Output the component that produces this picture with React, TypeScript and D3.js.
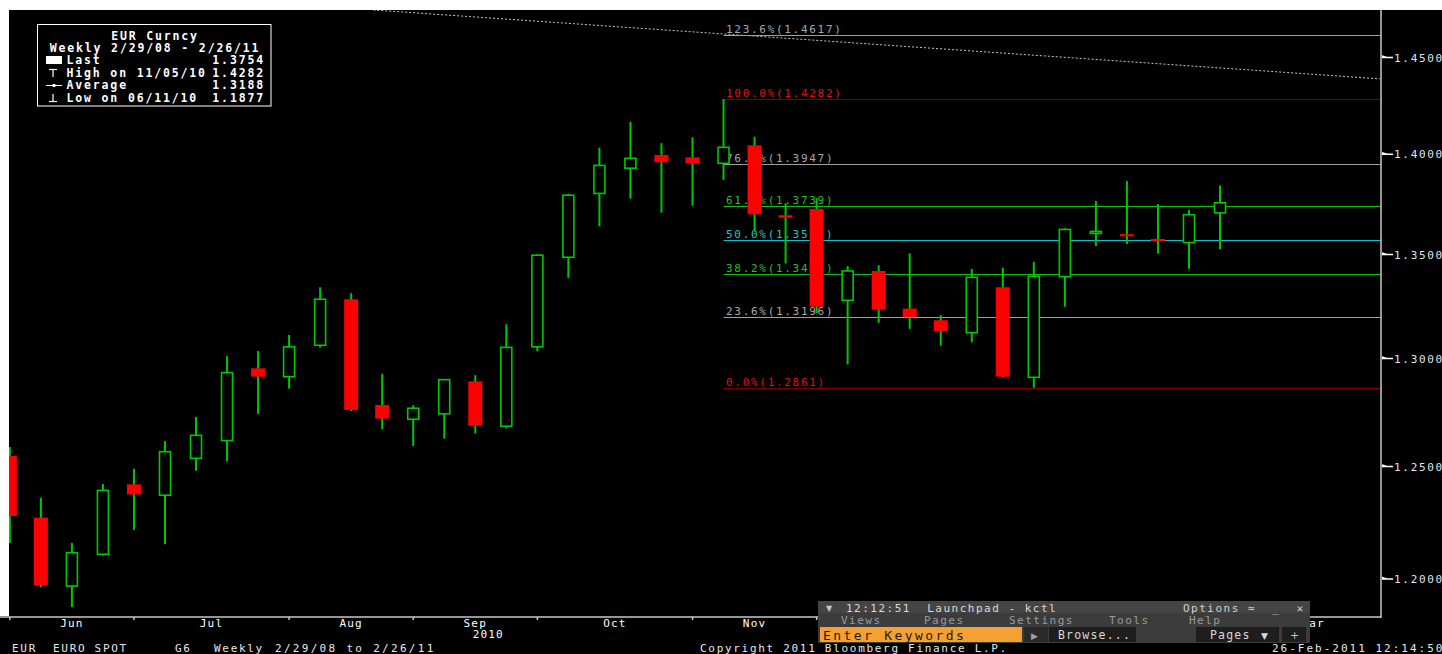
import React from "react";
import * as d3 from "d3";

const barDates = [
  "2010-05-28","2010-06-04","2010-06-11","2010-06-18","2010-06-25","2010-07-02","2010-07-09","2010-07-16",
  "2010-07-23","2010-07-30","2010-08-06","2010-08-13","2010-08-20","2010-08-27","2010-09-03","2010-09-10",
  "2010-09-17","2010-09-24","2010-10-01","2010-10-08","2010-10-15","2010-10-22","2010-10-29","2010-11-05",
  "2010-11-12","2010-11-19","2010-11-26","2010-12-03","2010-12-10","2010-12-17","2010-12-24","2010-12-31",
  "2011-01-07","2011-01-14","2011-01-21","2011-01-28","2011-02-04","2011-02-11","2011-02-18","2011-02-25",
];
const opens = [
  1.2547,1.2269,1.1968,1.2107,1.2418,1.2369,1.2536,1.2617,1.2952,1.2913,1.3061,1.3281,1.2781,1.2715,1.2740,1.2891,
  1.2683,1.3054,1.3485,1.3801,1.3928,1.3995,1.3983,1.3953,1.4044,1.3692,1.3723,1.3276,1.3418,1.3236,1.3180,1.3121,
  1.3339,1.2910,1.3390,1.3605,1.3598,1.3575,1.3557,1.3704,
];
const highs = [
  1.2588,1.2357,1.2157,1.2420,1.2488,1.2614,1.2725,1.3010,1.3034,1.3110,1.3339,1.3310,1.2926,1.2780,1.2901,1.2920,
  1.3161,1.3499,1.3798,1.4032,1.4164,1.4055,1.4085,1.4282,1.4088,1.3752,1.3777,1.3442,1.3446,1.3504,1.3205,1.3428,
  1.3434,1.3462,1.3627,1.3763,1.3863,1.3748,1.3718,1.3841,
];
const lows = [
  1.2157,1.1963,1.1877,1.2101,1.2214,1.2151,1.2480,1.2522,1.2740,1.2857,1.3050,1.2753,1.2669,1.2592,1.2626,1.2649,
  1.2673,1.3032,1.3383,1.3637,1.3775,1.3705,1.3740,1.3869,1.3611,1.3455,1.3213,1.2971,1.3168,1.3139,1.3059,1.3075,
  1.2910,1.2861,1.3245,1.3540,1.3549,1.3503,1.3428,1.3524,
];
const closes = [
  1.2276,1.1971,1.2114,1.2391,1.2373,1.2566,1.2641,1.2932,1.2913,1.3054,1.3281,1.2758,1.2718,1.2766,1.2899,1.2685,
  1.3051,1.3495,1.3792,1.3942,1.3978,1.3958,1.3954,1.4034,1.3697,1.3680,1.3245,1.3418,1.3231,1.3195,1.3129,1.3387,
  1.2913,1.3392,1.3622,1.3612,1.3590,1.3565,1.3695,1.3754,
];

const yTicks = [1.2, 1.25, 1.3, 1.35, 1.4, 1.45];
const yTickLabels = ["1.2000", "1.2500", "1.3000", "1.3500", "1.4000", "1.4500"];

const fibStartDate = "2010-11-05";
const fibPcts = ["123.6%", "100.0%", "76.4%", "61.8%", "50.0%", "38.2%", "23.6%", "0.0%"];
const fibValues = [1.4617, 1.4282, 1.3947, 1.3739, 1.3572, 1.3404, 1.3196, 1.2861];
const fibTextColors = ["#a8a8a8", "#e01010", "#a8a8a8", "#20c020", "#20c8c8", "#20c020", "#a8a8a8", "#e01010"];
const fibLineColors = ["#a0a0a0", "#800000", "#a0a0a0", "#10c010", "#10c0c8", "#10c010", "#a0a0a0", "#800000"];

const monthTickDates = [
  "2010-05-28","2010-06-25","2010-07-30","2010-08-27","2010-09-24","2010-10-29",
  "2010-11-26","2010-12-31","2011-01-28","2011-02-25","2011-04-08",
];
const monthNames = ["Jun", "Jul", "Aug", "Sep", "Oct", "Nov", "Dec", "Jan", "Feb", "Mar"];
const yearLabel = "2010";
const yearLabelDate = "2010-09-10";

const trendDates = ["2010-08-18", "2011-04-02"];
const trendPrices = [1.4751, 1.4387];

const legendTitle = "EUR Curncy";
const legendSub = "Weekly 2/29/08 - 2/26/11";
const legendLabels = ["Last", "High on 11/05/10", "Average", "Low on 06/11/10"];
const legendValues = ["1.3754", "1.4282", "1.3188", "1.1877"];

const footerLeft = ["EUR", "EURO SPOT", "G6", "Weekly", "2/29/08 to 2/26/11"];
const footerLeftX = [12, 53, 175, 214, 275];

const FONT = "'DejaVu Sans Mono', monospace";
const GREEN = "#00c800";
const RED = "#ff0000";
const PRE = { whiteSpace: "pre" as const };

export default function App() {
  const W = 1442, H = 654;
  const left = 9, right = 1381, top = 10, bottom = 617;
  const x = d3
    .scaleUtc()
    .domain([new Date("2010-05-27T19:26:00Z"), new Date("2011-04-02T07:40:00Z")])
    .range([left, right]);
  const y = d3.scaleLog().domain([1.2, 1.45]).range([578.7, 57.3]);
  const d = (s: string) => new Date(s + "T00:00:00Z");

  const bars = barDates.map((s, i) => ({
    cx: x(d(s)),
    o: opens[i], h: highs[i], l: lows[i], c: closes[i],
  }));

  const fibX = x(d(fibStartDate));
  const tickXs = monthTickDates.map((s) => x(d(s)));

  const tx1 = x(d(trendDates[0])), ty1 = y(trendPrices[0]);
  const tx2 = x(d(trendDates[1])), ty2 = y(trendPrices[1]);

  return (
    <svg
      width={W}
      height={H}
      style={{ position: "absolute", left: 0, top: 0, display: "block" }}
      xmlns="http://www.w3.org/2000/svg"
    >
      <defs>
        <clipPath id="plot">
          <rect x={left} y={top} width={right - left} height={bottom - top} />
        </clipPath>
      </defs>
      <rect x={0} y={0} width={W} height={H} fill="#ffffff" />
      <rect x={left} y={top} width={W - left} height={H - top} fill="#000000" />
      <rect x={0} y={bottom - 1} width={W} height={H - bottom + 1} fill="#000000" />

      {/* trend line */}
      <g clipPath="url(#plot)">
        <line x1={tx1} y1={ty1} x2={tx2} y2={ty2} stroke="#c8c8c8" strokeWidth={1} strokeDasharray="2,2" />
      </g>

      {/* fib lines */}
      {fibValues.map((v, i) => (
        <g key={"fib" + i}>
          <line x1={fibX} x2={right} y1={Math.round(y(v)) + 0.5} y2={Math.round(y(v)) + 0.5} stroke={fibLineColors[i]} strokeWidth={1.2} />
          <text x={fibX + 2.5} y={y(v) - 2} fill={fibTextColors[i]} fontFamily={FONT} fontSize={11} letterSpacing={1.7}>
            {`${fibPcts[i]}(${v.toFixed(4)})`}
          </text>
        </g>
      ))}

      {/* candles */}
      <g clipPath="url(#plot)">
        {bars.map((b, i) => {
          const up = b.c >= b.o;
          const yTop = y(Math.max(b.o, b.c));
          const yBot = y(Math.min(b.o, b.c));
          const hgt = Math.max(2, yBot - yTop);
          return (
            <g key={"c" + i}>
              <line x1={b.cx} x2={b.cx} y1={y(b.h)} y2={y(b.l)} stroke={GREEN} strokeWidth={2} />
              {up ? (
                <rect x={b.cx - 5.5} y={yTop} width={11} height={hgt} fill="#000" stroke={GREEN} strokeWidth={1.6} />
              ) : (
                <rect x={b.cx - 7} y={yTop} width={14} height={hgt} fill={RED} />
              )}
            </g>
          );
        })}
      </g>

      {/* right axis */}
      <line x1={right} x2={right} y1={top} y2={bottom + 1} stroke="#c8c8c8" strokeWidth={1.5} />
      {yTicks.map((t, i) => {
        const yy = y(t);
        return (
          <g key={"yt" + i}>
            <path d={`M${right + 1},${yy - 2} L${right + 6},${yy - 0.5} L${right + 12},${yy - 0.5} L${right + 12},${yy + 1} L${right + 1},${yy + 1} Z`} fill="#ffffff" />
            <text x={right + 13} y={yy + 4.5} fill="#dfe6ee" fontFamily={FONT} fontSize={11} letterSpacing={1.7}>
              {yTickLabels[i]}
            </text>
          </g>
        );
      })}

      {/* bottom axis */}
      <line x1={0} x2={right} y1={bottom} y2={bottom} stroke="#c8c8c8" strokeWidth={1.5} />
      {tickXs.filter((tx) => tx <= right).map((tx, i) => (
        <line key={"mt" + i} x1={tx} x2={tx} y1={bottom} y2={bottom + 3} stroke="#c8c8c8" strokeWidth={1.5} />
      ))}
      {monthNames.map((m, i) => (
        <text key={"mn" + i} x={(tickXs[i] + tickXs[i + 1]) / 2} y={627} fill="#ffffff" fontFamily={FONT} fontSize={11} letterSpacing={1.2} textAnchor="middle">
          {m}
        </text>
      ))}
      <text x={x(d(yearLabelDate)) + 13} y={638} fill="#ffffff" fontFamily={FONT} fontSize={11} letterSpacing={1.2} textAnchor="middle">
        {yearLabel}
      </text>

      {/* footer */}
      <g fontFamily={FONT} fontSize={11} fill="#e8e8e8" letterSpacing={1.7}>
        {footerLeft.map((t, i) => (
          <text key={"fl" + i} x={footerLeftX[i]} y={652} style={PRE} letterSpacing={i === 4 ? 2.3 : 1.7}>{t}</text>
        ))}
        <text x={700} y={652} style={PRE}>Copyright 2011 Bloomberg Finance L.P.</text>
        <text x={1272} y={652} style={PRE} letterSpacing={2}>26-Feb-2011 12:14:50</text>
      </g>

      {/* legend */}
      <g>
        <rect x={37.5} y={24.5} width={233.5} height={81.5} fill="#000" stroke="#ffffff" strokeWidth={1} />
        <g fontFamily={FONT} fontSize={11.5} fill="#ffffff" letterSpacing={1.85} fontWeight="bold">
          <text x={155} y={39.5} textAnchor="middle">{legendTitle}</text>
          <text x={155} y={51.5} textAnchor="middle">{legendSub}</text>
          {legendLabels.map((lab, i) => (
            <text key={"ll" + i} x={66.5} y={64 + i * 12.5}>{lab}</text>
          ))}
          {legendValues.map((v, i) => (
            <text key={"lv" + i} x={265} y={64 + i * 12.5} textAnchor="end">{v}</text>
          ))}
        </g>
        <rect x={46} y={56} width={16} height={8} fill="#ffffff" />
        <line x1={49} x2={57} y1={69.5} y2={69.5} stroke="#fff" strokeWidth={1.2} />
        <line x1={53} x2={53} y1={69.5} y2={77} stroke="#fff" strokeWidth={1.2} />
        <line x1={46} x2={62} y1={85.5} y2={85.5} stroke="#fff" strokeWidth={1} />
        <circle cx={54} cy={85.5} r={1.8} fill="#fff" />
        <line x1={49} x2={57} y1={101.5} y2={101.5} stroke="#fff" strokeWidth={1.2} />
        <line x1={53} x2={53} y1={94} y2={101.5} stroke="#fff" strokeWidth={1.2} />
      </g>

      {/* launchpad overlay */}
      <g fontFamily="'DejaVu Sans', sans-serif" fontSize={12}>
        <rect x={818} y={601} width={492} height={42} fill="#3c3c3c" />
        <rect x={818} y={601} width={492} height={12} fill="#454545" />
        <text x={826} y={611} fill="#c8c8c8" fontSize={8}>▼</text>
        <text x={846} y={611.5} fill="#d8d8d8" fontFamily={FONT} fontSize={11} letterSpacing={1.5} style={PRE}>12:12:51  Launchpad - kctl</text>
        <text x={1183} y={611.5} fill="#d0d0d0" fontFamily={FONT} fontSize={11} letterSpacing={1.5} style={PRE}>Options ≈  _  ✕</text>
        <g fill="#9a9a9a" fontFamily={FONT} fontSize={11} letterSpacing={1.5}>
          <text x={841} y={624}>Views</text>
          <text x={924} y={624}>Pages</text>
          <text x={1009} y={624}>Settings</text>
          <text x={1109} y={624}>Tools</text>
          <text x={1189} y={624}>Help</text>
        </g>
        <rect x={820} y={627} width={202} height={15} fill="#f5a033" />
        <text x={823} y={639.5} fill="#1a1a1a" fontFamily={FONT} fontSize={13} letterSpacing={2.4}>Enter Keywords</text>
        <rect x={1024} y={627} width={24} height={15} fill="#2a2a2a" />
        <text x={1031} y={638.5} fill="#a0a0a0" fontSize={9}>▶</text>
        <rect x={1049} y={627} width={87} height={15} fill="#1e1e1e" />
        <text x={1058} y={639} fill="#d8d8d8" fontFamily={FONT} fontSize={11.5} letterSpacing={1.2}>Browse...</text>
        <rect x={1196} y={627} width={83} height={15} fill="#1e1e1e" />
        <text x={1210} y={639} fill="#d8d8d8" fontFamily={FONT} fontSize={11.5} letterSpacing={1.2}>Pages</text>
        <text x={1261} y={638.5} fill="#d8d8d8" fontSize={9}>▼</text>
        <rect x={1282} y={627} width={24} height={15} fill="#1e1e1e" />
        <text x={1290} y={638.5} fill="#c0c0c0" fontSize={11}>+</text>
      </g>
    </svg>
  );
}
